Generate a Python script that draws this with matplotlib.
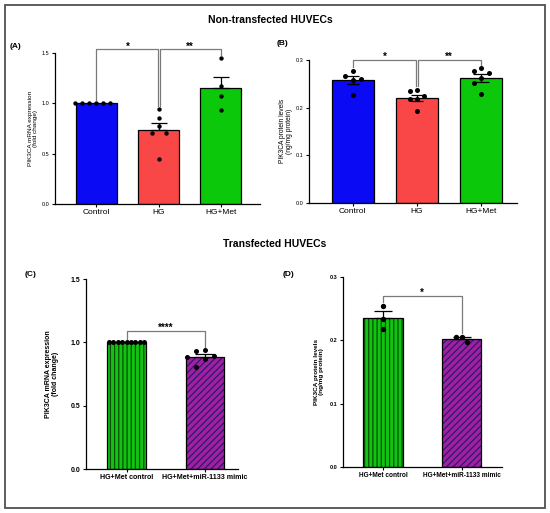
import matplotlib
matplotlib.use('Agg')
import matplotlib.pyplot as plt
import numpy as np
from matplotlib.patches import Rectangle

plt.rcParams['font.family'] = ['Liberation Sans', 'DejaVu Sans']
plt.rcParams['hatch.linewidth'] = 0.9

# ---- data ----
a_groups = ['Control', 'HG', 'HG+Met']
a_control = [1.0, 1.0, 1.0, 1.0, 1.0, 1.0]
a_hg = [0.94, 0.85, 0.775, 0.71, 0.71, 0.45]
a_hgmet = [1.45, 1.17, 1.07, 0.93]

b_groups = ['Control', 'HG', 'HG+Met']
b_control = [0.277, 0.267, 0.261, 0.257, 0.2265]
b_hg = [0.237, 0.235, 0.224, 0.217, 0.217, 0.193]
b_hgmet = [0.2825, 0.277, 0.2735, 0.263, 0.2523, 0.2286]

c_groups = ['HG+Met control', 'HG+Met+miR-1133 mimic']
c_control = [1.0] * 9
c_mimic = [0.94, 0.935, 0.893, 0.883, 0.867, 0.809]

d_groups = ['HG+Met control', 'HG+Met+miR-1133 mimic']
d_control = [0.254, 0.2334, 0.218]
d_mimic = [0.2056, 0.2045, 0.198]

a_sig = [(0, 1, '*'), (1, 2, '**')]
b_sig = [(0, 1, '*'), (1, 2, '**')]
c_sig = [(0, 1, '****')]
d_sig = [(0, 1, '*')]

W, H = 550, 513
fig = plt.figure(figsize=(W / 100, H / 100), dpi=100)
fig.patch.set_facecolor('white')

fig.add_artist(Rectangle((4.5 / W, 1 - 507.5 / H), 540.5 / W, 502.5 / H,
                         transform=fig.transFigure, fill=False,
                         edgecolor='#505050', lw=1.3))


def px_axes(left, right, top, bottom):
    return fig.add_axes([left / W, 1 - bottom / H, (right - left) / W, (bottom - top) / H])


def swarm(ax, vals, spacing):
    # simple beeswarm: offsets in data-x units
    tr = ax.transData
    ppx = tr.transform((1, 0))[0] - tr.transform((0, 0))[0]
    ypx = tr.transform(np.column_stack([np.zeros(len(vals)), vals]))[:, 1]
    placed = []
    offs = np.zeros(len(vals))
    for i in np.argsort(-np.asarray(vals), kind='stable'):
        k = 0
        while True:
            if k % 2 == 1:
                cand = -((k + 1) // 2) * spacing
            else:
                cand = (k // 2) * spacing
            if all(np.hypot(cand - px, ypx[i] - py) >= spacing * 0.999 for px, py in placed):
                break
            k += 1
        placed.append((cand, ypx[i]))
        offs[i] = cand / ppx
    return offs


def panel(box, xlim, ymax, yticks, groups, data, colors, width, hatches,
          spacing, dot, cap, both, sig, bracket_y, ylabel, lab_x,
          bold, tick_fs, cat_fs, ylab_fs, gap_px=3.5):
    ax = px_axes(*box)
    ax.set_xlim(*xlim)
    ax.set_ylim(0, ymax)
    for s in ['top', 'right']:
        ax.spines[s].set_visible(False)
    for s in ['left', 'bottom']:
        ax.spines[s].set_linewidth(0.9)
    w8 = 'bold' if bold else 'normal'
    ax.set_yticks(yticks)
    ax.set_yticklabels(['%.1f' % t for t in yticks], fontsize=tick_fs, fontweight=w8)
    ax.set_xticks(range(len(groups)))
    ax.set_xticklabels(groups, fontsize=cat_fs, fontweight=w8)
    ax.tick_params(axis='y', length=2.5, width=0.8, pad=1.5)
    ax.tick_params(axis='x', length=2, width=0.8, pad=1.5)

    ppy = ax.transData.transform((0, 1))[1] - ax.transData.transform((0, 0))[1]
    ppx = ax.transData.transform((1, 0))[0] - ax.transData.transform((0, 0))[0]
    tops = []
    for i, vals in enumerate(data):
        vals = np.asarray(vals)
        m = vals.mean()
        sem = vals.std(ddof=1) / np.sqrt(len(vals))
        fc, hc = colors[i]
        if hatches[i]:
            ax.bar(i, m, width, color=fc, edgecolor=hc, hatch=hatches[i], lw=0, zorder=2)
            ax.bar(i, m, width, color='none', edgecolor='black', lw=0.9, zorder=3)
        else:
            ax.bar(i, m, width, color=fc, edgecolor='black', lw=0.9, zorder=2)
        if sem > 0:
            yerr = [[sem if both else 0], [sem]]
            ax.errorbar(i, m, yerr=yerr, fmt='none', ecolor='black', elinewidth=0.9,
                        capsize=cap[i], capthick=0.9, zorder=4)
        offs = swarm(ax, vals, spacing[i])
        ax.scatter(i + offs, vals, s=dot, color='black', zorder=5, lw=0)
        tops.append(max(vals.max(), m + sem))

    gap = gap_px / ppy
    dx = 1.1 / ppx
    for i, j, star in sig:
        xi = i + (dx if any(s[1] == i for s in sig) else 0)
        xj = j - (dx if any(s[0] == j for s in sig) else 0)
        ax.plot([xi, xi, xj, xj], [tops[i] + gap, bracket_y, bracket_y, tops[j] + gap],
                color='#7a7a7a', lw=0.9, clip_on=False, zorder=6)
        ax.text((i + j) / 2, bracket_y - 0.3 / ppy, star, ha='center', va='baseline',
                fontsize=7, fontweight='bold', clip_on=False)

    ax.text(lab_x, 0.5, ylabel, transform=ax.transAxes, rotation=90, ha='center',
            va='center', fontsize=ylab_fs, fontweight=w8,
            multialignment='center', linespacing=1.15)
    return ax


panel((55, 260, 53, 204), (-0.667, 2.63), 1.5, [0, 0.5, 1.0, 1.5], a_groups,
      [a_control, a_hg, a_hgmet],
      [('#0a0af5', None), ('#f94747', None), ('#0bc80b', None)], 0.66, [None, None, None],
      [7, 7, 7], 10, [6, 6, 6], False, a_sig, 1.535,
      'PIK3CA mRNA expression\n(fold change)', -0.107, False, 4, 6, 4.6)

panel((309.3, 516.7, 60, 202.7), (-0.678, 2.553), 0.3, [0, 0.1, 0.2, 0.3], b_groups,
      [b_control, b_hg, b_hgmet],
      [('#0a0af5', None), ('#f94747', None), ('#0bc80b', None)], 0.654, [None, None, None],
      [8, 7, 7.5], 13, [4.6, 4.6, 6], True, b_sig, 0.3,
      'PIK3CA protein levels\n(ng/mg protein)', -0.112, False, 4, 6, 4.8)

panel((86, 238, 279, 469.3), (-0.518, 1.426), 1.5, [0, 0.5, 1.0, 1.5], c_groups,
      [c_control, c_mimic],
      [('#12c412', '#064d06'), ('#a020a0', '#2a1a70')], 0.49, ['||||', '/////'],
      [4.4, 9], 13, [7, 7.2], False, c_sig, 1.092,
      'PIK3CA mRNA expression\n(fold change)', -0.224, True, 5, 5.1, 5.0)

panel((342.7, 502, 276.7, 467.3), (-0.512, 1.512), 0.3, [0, 0.1, 0.2, 0.3], d_groups,
      [d_control, d_mimic],
      [('#12c412', '#064d06'), ('#a020a0', '#2a1a70')], 0.5, ['||||', '/////'],
      [5.7, 5.7], 15, [6.4, 6.4], False, d_sig, 0.27,
      'PIK3CA protein levels\n(ng/mg protein)', -0.149, True, 4, 4.7, 4.6)

for txt, x, y in [('(A)', 10, 46.5), ('(B)', 276.5, 43.5), ('(C)', 25, 274.5), ('(D)', 283, 275)]:
    fig.text(x / W, 1 - y / H, txt, ha='left', va='center', fontsize=6, fontweight='bold')

fig.text(270 / W, 1 - 20 / H, 'Non-transfected HUVECs', ha='center', va='center',
         fontsize=7.5, fontweight='bold')
fig.text(275 / W, 1 - 244 / H, 'Transfected HUVECs', ha='center', va='center',
         fontsize=7.5, fontweight='bold')

fig.savefig('out.png', dpi=100)
